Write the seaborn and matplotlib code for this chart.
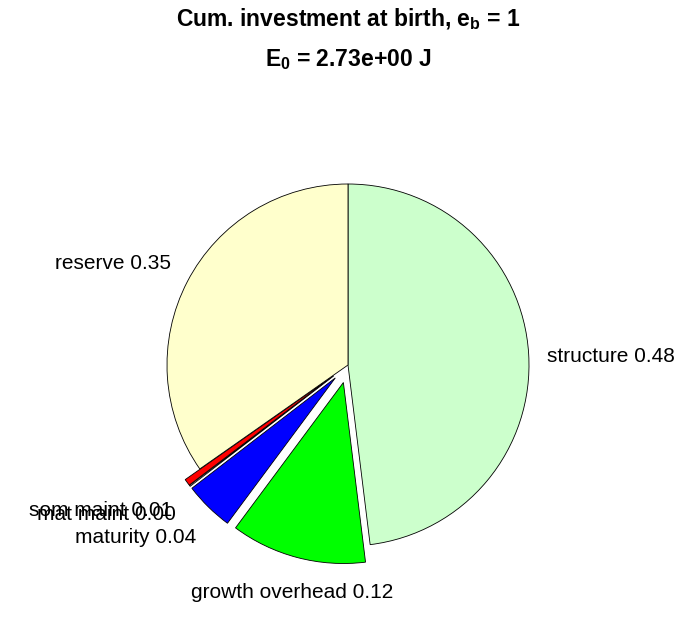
import matplotlib
matplotlib.use("Agg")
import matplotlib.pyplot as plt
import seaborn as sns

# energy investment fractions, clockwise from the top
parts = ['structure', 'growth overhead', 'maturity', 'mat maint', 'som maint', 'reserve']
fractions = [0.480, 0.121, 0.044, 0.001, 0.006, 0.347]
exploded = [0, 1, 1, 1, 1, 0]
colors = ['#CCFFCC', '#00FF00', '#0000FF', '#FFFFFF', '#FF0000', '#FFFFCC']

sns.set_style('white')
plt.rcParams['font.family'] = ['Liberation Sans', 'DejaVu Sans']
plt.rcParams['mathtext.fontset'] = 'custom'
plt.rcParams['mathtext.rm'] = 'Liberation Sans:bold'
plt.rcParams['mathtext.it'] = 'Liberation Sans:bold'
plt.rcParams['mathtext.bf'] = 'Liberation Sans:bold'

W, H = 696, 618
fig = plt.figure(figsize=(W / 100, H / 100), dpi=100)
cx, cy, r = 348, 365, 181
half = r * 1.3
ax = fig.add_axes([(cx - half) / W, (H - cy - half) / H, 2 * half / W, 2 * half / H])

labels = ['%s %.2f' % (p, f) for p, f in zip(parts, fractions)]
wedges, texts = ax.pie(fractions, labels=labels, colors=colors,
                       explode=[0.1 * e for e in exploded],
                       startangle=90, counterclock=False, labeldistance=1.1,
                       wedgeprops=dict(edgecolor='black', linewidth=0.6),
                       textprops=dict(fontsize=15, color='black'))
for t in texts:
    x, y = t.get_position()
    if abs(x) < 0.4:
        t.set_ha('center')
    if y > 0.3:
        t.set_va('bottom')
    elif y < -0.3:
        t.set_va('top')
        t.set_position((x, y - 0.045))
    else:
        t.set_position((x, y - 0.02))
ax.set_xlim(-1.3, 1.3)
ax.set_ylim(-1.3, 1.3)
ax.set_aspect('equal')
ax.axis('off')

fig.text(0.5, 1 - 26 / H, r'Cum. investment at birth, $e_b$ = 1', color='black',
         ha='center', va='baseline', fontsize=16.5, fontweight='bold')
fig.text(0.5, 1 - 66 / H, r'$E_0$ = 2.73e+00 J', color='black',
         ha='center', va='baseline', fontsize=16.5, fontweight='bold')

fig.savefig('out.png', dpi=100, facecolor='white')
